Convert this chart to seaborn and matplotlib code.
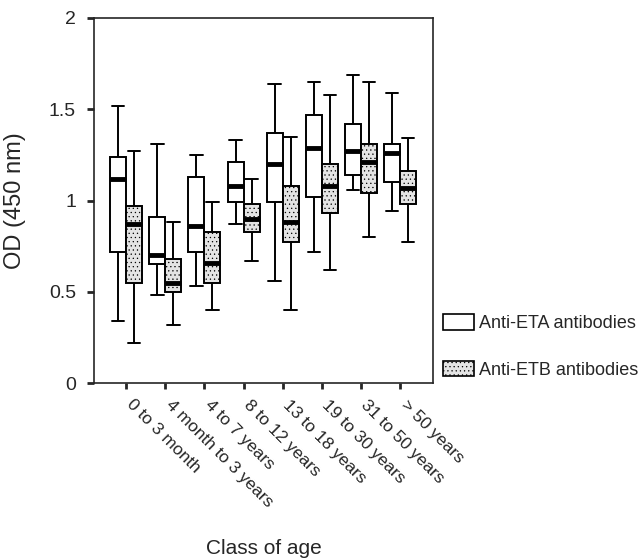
import numpy as np
import pandas as pd
import seaborn as sns
from matplotlib import pyplot as plt
from matplotlib.patches import Patch
from matplotlib.transforms import ScaledTranslation

sns.set_style("ticks")
plt.rcParams["font.family"] = ["Liberation Sans", "DejaVu Sans"]
plt.rcParams["hatch.linewidth"] = 0.4

# Clases de edad
ages = ["0 to 3 month", "4 month to 3 years", "4 to 7 years", "8 to 12 years",
        "13 to 18 years", "19 to 30 years", "31 to 50 years", "> 50 years"]
groups = ["Anti-ETA antibodies", "Anti-ETB antibodies"]

# Resumen de cinco numeros: [min, Q1, mediana, Q3, max]
eta_stats = [
    [0.34, 0.72, 1.12, 1.24, 1.52],
    [0.48, 0.65, 0.70, 0.91, 1.31],
    [0.53, 0.72, 0.86, 1.13, 1.25],
    [0.87, 0.99, 1.08, 1.21, 1.33],
    [0.56, 0.99, 1.20, 1.37, 1.64],
    [0.72, 1.02, 1.29, 1.47, 1.65],
    [1.06, 1.14, 1.27, 1.42, 1.69],
    [0.94, 1.10, 1.26, 1.31, 1.59],
]
etb_stats = [
    [0.22, 0.55, 0.87, 0.97, 1.27],
    [0.32, 0.50, 0.55, 0.68, 0.88],
    [0.40, 0.55, 0.66, 0.83, 0.99],
    [0.67, 0.83, 0.90, 0.98, 1.12],
    [0.40, 0.77, 0.88, 1.08, 1.35],
    [0.62, 0.93, 1.08, 1.20, 1.58],
    [0.80, 1.04, 1.21, 1.31, 1.65],
    [0.77, 0.98, 1.07, 1.16, 1.34],
]

# Tabla larga: cada caja se construye con sus cinco valores
rows = []
for grp, stats in zip(groups, [eta_stats, etb_stats]):
    for age, vals in zip(ages, stats):
        for v in vals:
            rows.append({"age": age, "antibody": grp, "od": v})
df = pd.DataFrame(rows)

fig = plt.figure(figsize=(6.41, 5.59), dpi=100)
ax = fig.add_axes([0.1467, 0.3148, 0.5289, 0.653])

sns.boxplot(data=df, x="age", y="od", hue="antibody", order=ages,
            hue_order=groups, palette=["white", "#e4e4e4"], whis=(0, 100),
            width=0.82, gap=0, linecolor="black", linewidth=1.4,
            medianprops={"linewidth": 3.5, "color": "black"},
            capwidths=0.32, legend=False, ax=ax)

# Punteado para las cajas anti-ETB
for p in ax.patches:
    if p.get_facecolor()[0] < 0.99:
        p.set_hatch("....")

ax.set_xlim(-0.82, 7.84)
ax.set_ylim(0, 2)
ax.set_yticks([0, 0.5, 1, 1.5, 2])
ax.set_yticklabels(["0", "0.5", "1", "1.5", "2"], fontsize=14)
ax.tick_params(axis="y", length=5, width=2, pad=8)
ax.tick_params(axis="x", length=4, width=2, pad=6)
ax.set_xticks(range(len(ages)))
ax.set_xticklabels(ages, rotation=-45, ha="left", va="top",
                   rotation_mode="anchor", fontsize=12.5)
# mover las etiquetas un poco a la derecha
shift = ScaledTranslation(8 / 100, 0, fig.dpi_scale_trans)
for lbl in ax.get_xticklabels():
    lbl.set_transform(lbl.get_transform() + shift)
for s in ax.spines.values():
    s.set_visible(True)
    s.set_linewidth(1.2)

ax.set_ylabel("OD (450 nm)", fontsize=17)
ax.yaxis.set_label_coords(-0.2, 0.5)
ax.set_xlabel("Class of age", fontsize=15)
ax.xaxis.set_label_coords(0.5, -0.452)
ax.xaxis.label.set_va("center")

handles = [Patch(facecolor="white", edgecolor="black", linewidth=1.2),
           Patch(facecolor="#e4e4e4", edgecolor="black", linewidth=1.2, hatch="....")]
fig.legend(handles, groups, loc="upper left", bbox_to_anchor=(443 / 641, 1 - 314 / 559),
           frameon=False, fontsize=13, handlelength=1.7, handleheight=0.95,
           handletextpad=0.3, labelspacing=1.6, borderpad=0, borderaxespad=0)

fig.savefig("out.png", dpi=100)
